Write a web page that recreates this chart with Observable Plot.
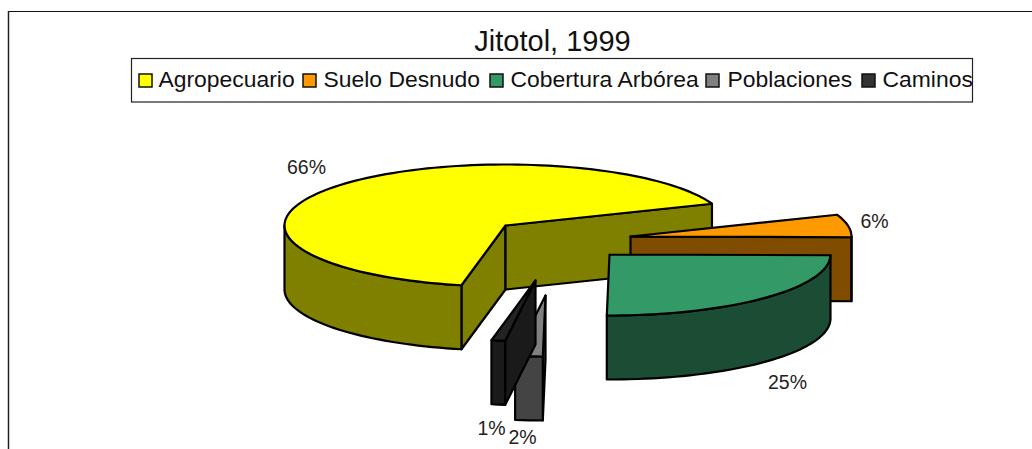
<!DOCTYPE html>
<html>
<head>
<meta charset="utf-8">
<script src="https://cdn.jsdelivr.net/npm/d3@7"></script>
<script src="https://cdn.jsdelivr.net/npm/@observablehq/plot@0.6"></script>
<style>html,body{margin:0;padding:0;background:#fff;overflow:hidden}svg{display:block}</style>
</head>
<body>
<div id="chart"></div>
<script>
const chartTitle = "Jitotol, 1999";
const categories = ["Agropecuario", "Suelo Desnudo", "Cobertura Arbórea", "Poblaciones", "Caminos"];
const shares = [66, 6, 25, 2, 1];
const topColors = ["#ffff00", "#ff9900", "#339966", "#808080", "#222222"];
const sideColors = ["#808000", "#804c00", "#1a4d33", "#444444", "#1a1a1a"];
const legendColors = ["#ffff00", "#ff9900", "#339966", "#808080", "#333333"];

// layout of the exploded 3-D pie
const W = 1032, H = 449;
const rx = 221, ry = 61, depth = 64, startAngle = 258.5;
const centers = [[505, 225], [630, 236], [609, 254], [545, 295], [535, 280]];
const labelPos = [[306, 167], [874, 221], [787, 382], [522, 437.5], [491, 428]];
const legendSwatch = [139, 303, 490, 706, 862];
const legendText = [158, 323, 510, 727, 882];

const rad = (d) => d * Math.PI / 180;
const polys = [];
const rimPt = (c, t, dz = 0) => ({x: c[0] + rx * Math.cos(rad(t)), y: c[1] - ry * Math.sin(rad(t)) + dz});
function arc(c, t0, t1, dz = 0) {
  const n = Math.max(2, Math.ceil(Math.abs(t1 - t0) / 2));
  return d3.range(n + 1).map((i) => rimPt(c, t0 + (t1 - t0) * i / n, dz));
}
let cursor = startAngle;
categories.forEach((name, i) => {
  const c = centers[i];
  const t0 = cursor, t1 = cursor - shares[i] * 3.6; // clockwise
  cursor = t1;
  const apex = {x: c[0], y: c[1]}, apexB = {x: c[0], y: c[1] + depth};
  const side = sideColors[i];
  const wall = (t) => [apex, rimPt(c, t), rimPt(c, t, depth), apexB, apex];
  // cut walls, only when they face the viewer
  if (Math.cos(rad(t0)) < 0) polys.push({pts: wall(t0), fill: side});
  if (Math.cos(rad(t1)) > 0) polys.push({pts: wall(t1), fill: side});
  // outer rim wall: only the part facing the viewer
  const a = t0 > 0 && t0 <= 180 ? 0 : t0;
  const b = t0 > 180 ? Math.max(t1, 180) : t1;
  if (a > b) {
    const top = arc(c, a, b), bot = arc(c, b, a, depth);
    polys.push({pts: [...top, ...bot, top[0]], fill: side});
  }
  // top face
  polys.push({pts: [apex, ...arc(c, t0, t1), apex], fill: topColors[i]});
});

const chart = Plot.plot({
  width: W, height: H,
  margin: 0,
  x: {domain: [0, W], range: [0, W], axis: null},
  y: {domain: [0, H], range: [0, H], axis: null},
  marks: [
    Plot.ruleY([11], {x1: 8, x2: W, stroke: "#111", strokeWidth: 1.2}),
    Plot.ruleX([8], {y1: 11, y2: H, stroke: "#222", strokeWidth: 1.5}),
    Plot.text([chartTitle], {x: 552, y: 41, text: (d) => d, fontSize: 29, fontFamily: "Liberation Sans", fill: "#111"}),
    Plot.rect([0], {x1: 131.5, x2: 972.5, y1: 58.5, y2: 102, fill: "#fff", stroke: "#222", strokeWidth: 1.2}),
    Plot.rect(categories, {
      x1: (d, i) => legendSwatch[i], x2: (d, i) => legendSwatch[i] + 13,
      y1: 74, y2: 87, fill: (d, i) => legendColors[i], stroke: "#111", strokeWidth: 1.5
    }),
    Plot.text(categories, {
      x: (d, i) => legendText[i], y: 79, text: (d) => d, textAnchor: "start",
      fontSize: 22.9, fontFamily: "Liberation Sans", fill: "#111"
    }),
    ...polys.map((p) => Plot.line(p.pts, {x: "x", y: "y", fill: p.fill, stroke: "#000", strokeWidth: 2.2, curve: "linear"})),
    Plot.text(shares, {
      x: (d, i) => labelPos[i][0], y: (d, i) => labelPos[i][1],
      text: (d) => d + "%", fontSize: 19.5, fontFamily: "Liberation Sans", fill: "#222"
    })
  ]
});
document.getElementById("chart").append(chart);
</script>
</body>
</html>
